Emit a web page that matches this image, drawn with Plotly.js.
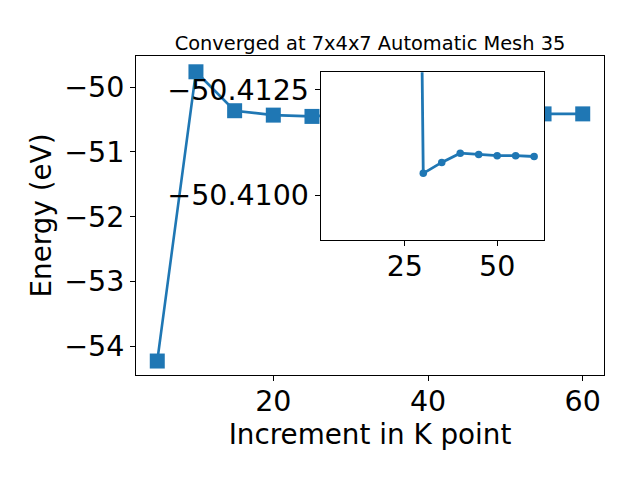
<!DOCTYPE html>
<html>
<head>
<meta charset="utf-8">
<script src="https://cdn.plot.ly/plotly-3.0.1.min.js"></script>
<style>html,body{margin:0;padding:0;background:#fff;}#chart{width:640px;height:480px;}</style>
</head>
<body>
<div id="chart"></div>
<script>
// Data
const kpoints = [5, 10, 15, 20, 25, 30, 35, 40, 45, 50, 55, 60];
const energy = [-54.232, -49.76, -50.362, -50.43, -50.45, -50.41052, -50.41078, -50.41100, -50.41097, -50.41094, -50.41094, -50.41092];
const insetStart = 4; // inset shows points from K = 25 on
const mainXTicks = [20, 40, 60];
const mainYTicks = [-54, -53, -52, -51, -50];
const insetXTicks = [25, 50];
const insetYTicks = [-50.4125, -50.4100];
const titleText = 'Converged at 7x4x7 Automatic Mesh 35';
const xLabel = 'Increment in K point';
const yLabel = 'Energy (eV)';

const blue = '#1f77b4';
const font = 'DejaVu Sans, sans-serif';

const traces = [
  {
    x: kpoints, y: energy, type: 'scatter', mode: 'lines+markers',
    line: {color: blue, width: 2.6},
    marker: {symbol: 'square', size: 15, color: blue},
    xaxis: 'x', yaxis: 'y', cliponaxis: true
  },
  {
    x: kpoints.slice(insetStart), y: energy.slice(insetStart), type: 'scatter', mode: 'lines+markers',
    line: {color: blue, width: 2.8},
    marker: {symbol: 'circle', size: 7.5, color: blue},
    xaxis: 'x2', yaxis: 'y2', cliponaxis: true
  }
];

const axisCommon = {
  showgrid: false, zeroline: false, showline: true, mirror: true,
  linecolor: 'black', linewidth: 1,
  ticks: 'outside', ticklen: 5, tickwidth: 1, tickcolor: 'black',
  tickfont: {family: font, size: 28.5, color: 'black'}
};

const layout = {
  width: 640, height: 480,
  paper_bgcolor: 'white', plot_bgcolor: 'white',
  margin: {l: 136, r: 36, t: 56, b: 105},
  showlegend: false,
  font: {family: font, color: 'black'},
  title: {
    text: titleText, font: {family: font, size: 19.4, color: 'black'},
    xref: 'paper', x: 0.5, xanchor: 'center',
    yref: 'paper', y: 1, yanchor: 'bottom', pad: {b: 6}
  },
  xaxis: Object.assign({}, axisCommon, {
    domain: [0, 1], anchor: 'y', range: [2.25, 62.75],
    tickmode: 'array', tickvals: mainXTicks, ticklabelstandoff: -4,
    title: {text: xLabel, font: {family: font, size: 27.8, color: 'black'}, standoff: 4}
  }),
  yaxis: Object.assign({}, axisCommon, {
    domain: [0, 1], anchor: 'x', range: [-54.448, -49.516],
    tickmode: 'array', tickvals: mainYTicks,
    title: {text: yLabel, font: {family: font, size: 27.8, color: 'black'}, standoff: 4}
  }),
  xaxis2: Object.assign({}, axisCommon, {
    domain: [0.3947, 0.8724], anchor: 'y2', range: [2.25, 62.75],
    tickmode: 'array', tickvals: insetXTicks, ticklabelstandoff: -4
  }),
  yaxis2: Object.assign({}, axisCommon, {
    domain: [0.4223, 0.9489], anchor: 'x2', range: [-50.40893, -50.41292],
    tickmode: 'array', tickvals: insetYTicks, tickformat: '.4f'
  })
};

Plotly.newPlot('chart', traces, layout, {staticPlot: true, displayModeBar: false});
</script>
</body>
</html>
